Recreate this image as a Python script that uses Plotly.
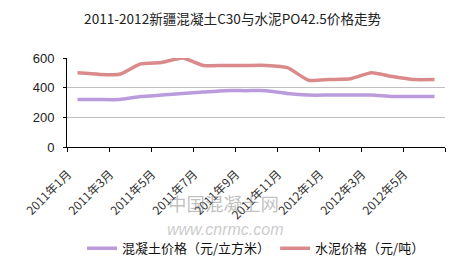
import plotly.graph_objects as go

months = ["2011年1月", "2011年2月", "2011年3月", "2011年4月", "2011年5月", "2011年6月",
          "2011年7月", "2011年8月", "2011年9月", "2011年10月", "2011年11月", "2011年12月",
          "2012年1月", "2012年2月", "2012年3月", "2012年4月", "2012年5月", "2012年6月"]
concrete = [320, 320, 320, 340, 350, 360, 370, 380, 380, 380, 360, 350, 350, 350, 350, 340, 340, 340]
cement = [500, 490, 490, 560, 570, 600, 550, 550, 550, 550, 535, 450, 455, 460, 500, 475, 455, 455]
series_names = ["混凝土价格（元/立方米）", "水泥价格（元/吨）"]
title_text = "2011-2012新疆混凝土C30与水泥PO42.5价格走势"
y_ticks = [0, 200, 400, 600]

FONT = "Noto Sans CJK SC, Liberation Sans, sans-serif"

idx = list(range(len(months)))
label_idx = idx[::2]
label_text = [months[i] + "\u00a0" * 5 for i in label_idx]
boundaries = [i - 0.5 for i in idx[::2]] + [idx[-1] + 0.5]

fig = go.Figure()
fig.add_trace(go.Scatter(x=idx, y=concrete, name=series_names[0], mode="lines",
                         line=dict(color="#BA9CDD", width=3.5, shape="spline", smoothing=0.5)))
fig.add_trace(go.Scatter(x=idx, y=cement, name=series_names[1], mode="lines",
                         line=dict(color="#DA8A8A", width=3.5, shape="spline", smoothing=0.5)))

fig.update_layout(
    width=450, height=260,
    margin=dict(l=67, r=5, t=58, b=113),
    paper_bgcolor="white", plot_bgcolor="white",
    font=dict(family=FONT, size=12, color="#222"),
    title=dict(text=title_text, x=0.517, xanchor="center", y=0.927, yanchor="middle",
               font=dict(family=FONT, size=13.6, color="#222")),
    showlegend=True,
    legend=dict(orientation="h", x=0.5, xanchor="center", yref="container", y=0.045,
                yanchor="middle",
                font=dict(family=FONT, size=13, color="#111"), itemwidth=30,
                bgcolor="rgba(0,0,0,0)", tracegroupgap=0),
    xaxis=dict(range=[-0.5, 17.5], tickmode="array", tickvals=label_idx, ticktext=label_text,
               showgrid=False, showline=True, linecolor="black",
               linewidth=1, ticks="",
               minor=dict(tickmode="array", tickvals=boundaries, ticks="outside", ticklen=4,
                          tickcolor="black", showgrid=False),
               tickangle=-45, tickfont=dict(family=FONT, size=12, color="#333"),
               ticklabelstandoff=5, zeroline=False, fixedrange=True, automargin=False),
    yaxis=dict(range=[0, 600], tickvals=y_ticks, showgrid=True, gridcolor="#C0C0C0",
               gridwidth=1, showline=True, linecolor="black", linewidth=1,
               ticks="outside", ticklen=3, tickcolor="black", zeroline=False,
               ticklabelstandoff=6, automargin=False,
               tickfont=dict(family="Liberation Sans, Arial, sans-serif", size=13, color="#222"),
               fixedrange=True),
)

fig.add_annotation(text="中国混凝土网", xref="paper", yref="paper", x=0.413, y=-0.63,
                   xanchor="center", yanchor="middle",
                   showarrow=False, font=dict(family=FONT, size=18.5, color="rgba(140,140,140,0.55)"))
fig.add_annotation(text="<i>www.cnrmc.com</i>", xref="paper", yref="paper", x=0.418, y=-0.93,
                   xanchor="center", yanchor="middle",
                   showarrow=False, font=dict(family="Liberation Sans, sans-serif", size=16,
                                              color="rgba(150,150,150,0.5)"))

fig.write_html("out.html")
